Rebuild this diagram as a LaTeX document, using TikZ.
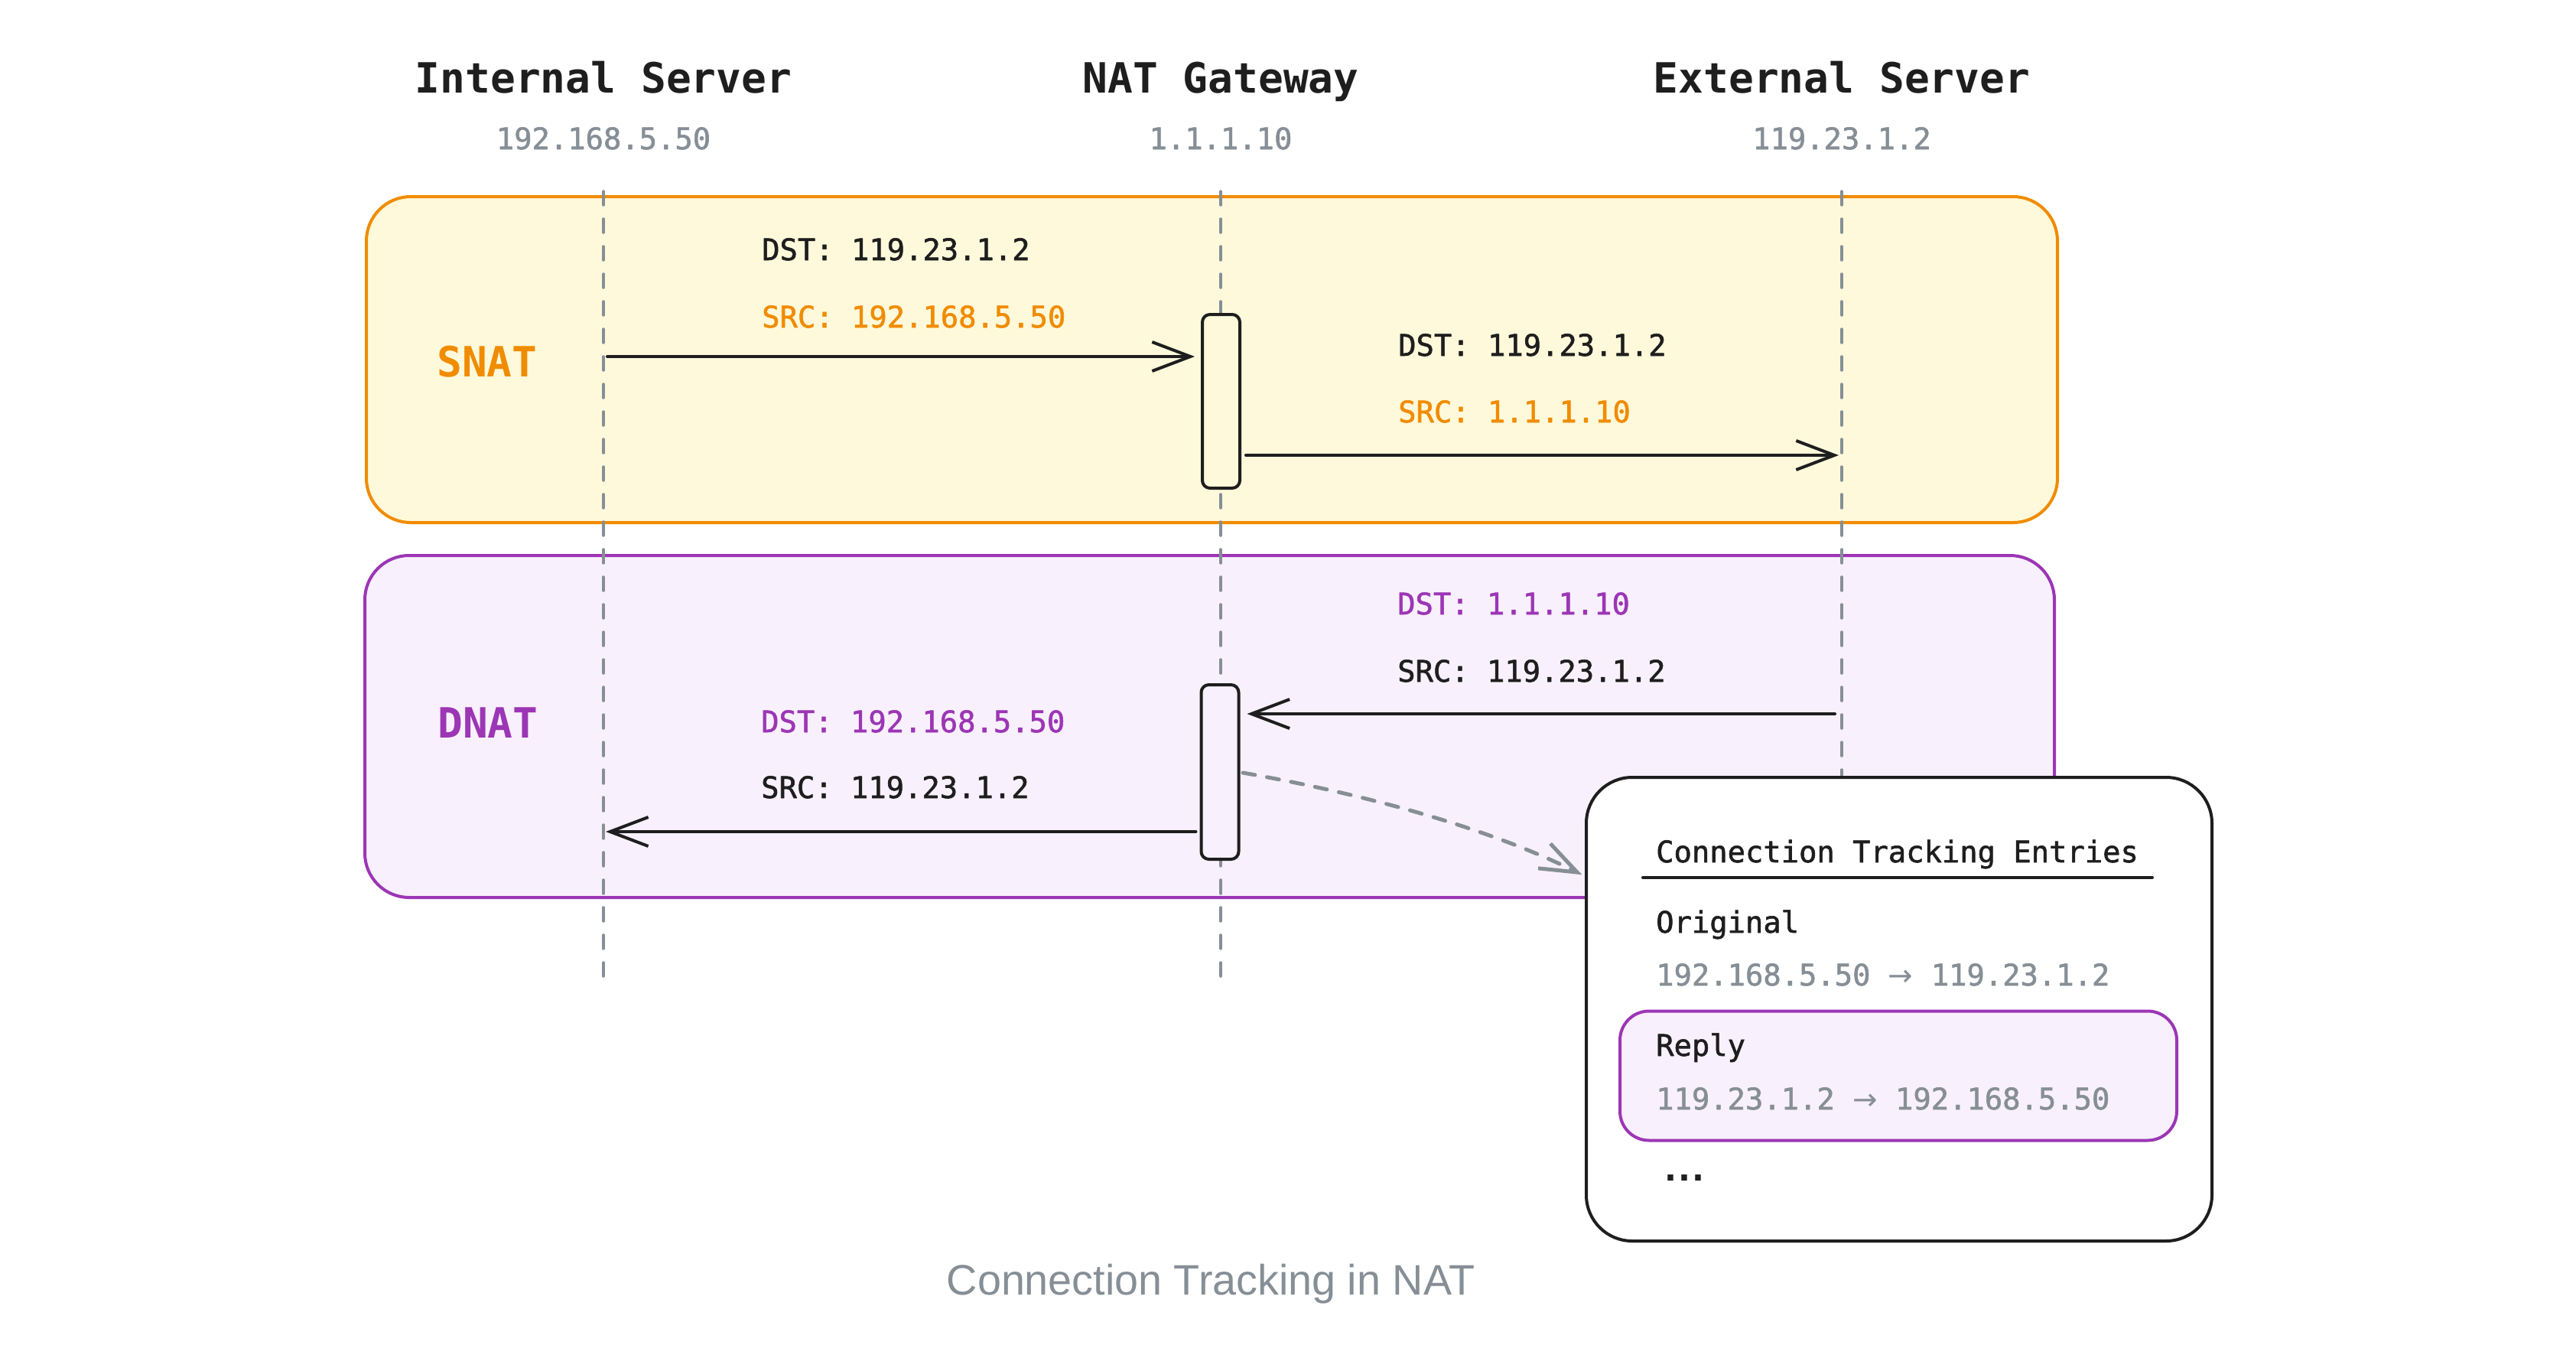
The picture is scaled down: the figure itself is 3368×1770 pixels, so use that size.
\documentclass[tikz,border=0pt]{standalone}
\usepackage{fontspec}
\setmainfont{DejaVu Sans Mono}
\newfontfamily\monof{DejaVu Sans Mono}
\newfontfamily\monolb[FakeBold=1.5]{DejaVu Sans Mono}
\newfontfamily\propf{DejaVu Sans}
\newfontfamily\capf{Liberation Sans}
\usetikzlibrary{arrows.meta}
\definecolor{ink}{HTML}{1E1E1E}
\definecolor{gry}{HTML}{868E96}
\definecolor{orng}{HTML}{F08C00}
\definecolor{snatbg}{HTML}{FFF9DB}
\definecolor{purp}{HTML}{9C36B5}
\definecolor{dnatbg}{HTML}{F8F0FC}
\newcommand\hdfont{\monof\fontsize{54.5}{60}\selectfont}
\newcommand\lbfont{\monolb\fontsize{38.8}{44}\selectfont}
\newcommand\arr{ {\propf→} }
\begin{document}
\begin{tikzpicture}[x=1pt,y=-1pt,line cap=round,line join=round,
  lifeline/.style={draw=gry,line width=3.5pt,dash pattern=on 18pt off 18pt},
  msg/.style={draw=ink,line width=4pt,-{Straight Barb[length=50pt,width=38pt]}},
  dmsg/.style={draw=gry,line width=5pt,dash pattern=on 16pt off 16pt,-{Straight Barb[length=48pt,width=36pt]}},
  region/.style={rounded corners=58pt,line width=4pt,inner sep=0pt},
  actbox/.style={draw=ink,line width=4pt,rounded corners=10pt,minimum width=49pt,minimum height=227pt,inner sep=0pt},
  lbl/.style={inner sep=0pt,anchor=base west,font=\lbfont},
  ttl/.style={inner sep=0pt,anchor=base,font=\hdfont\bfseries,text=ink},
  ipl/.style={inner sep=0pt,anchor=base,font=\lbfont,text=gry},
  sect/.style={inner sep=0pt,anchor=base west,font=\hdfont\bfseries}]
\useasboundingbox[fill=white] (0,0) rectangle (3368,1770);

% regions
\node[region,draw=orng,fill=snatbg,minimum width=2211pt,minimum height=426pt] (snat) at (1584.5,470) {};
\node[region,draw=purp,fill=dnatbg,minimum width=2209pt,minimum height=447pt] (dnat) at (1581.5,949.5) {};

% headers
\node[ttl] (tin) at (789,121) {Internal Server};
\node[ttl] (tnat) at (1596,121) {NAT Gateway};
\node[ttl] (text) at (2408,121) {External Server};
\node[ipl] (ipin) at (789,195) {192.168.5.50};
\node[ipl] (ipnat) at (1596,195) {1.1.1.10};
\node[ipl] (ipext) at (2408,195) {119.23.1.2};

% lifelines
\coordinate (lin1) at (789,250);  \coordinate (lin2) at (789,1278);
\coordinate (lnat1) at (1596,250); \coordinate (lnat2) at (1596,1278);
\coordinate (lext1) at (2408,250); \coordinate (lext2) at (2408,1278);
\draw[lifeline] (lin1) -- (lin2);
\draw[lifeline] (lnat1) -- (lnat2);
\draw[lifeline] (lext1) -- (lext2);

% section labels
\node[sect,text=orng] (lsnat) at (571,492) {SNAT};
\node[sect,text=purp] (ldnat) at (572,964) {DNAT};

% activation boxes
\node[actbox,fill=snatbg] (act1) at (1596.5,524.5) {};
\node[actbox,fill=dnatbg,minimum height=228pt] (act2) at (1595,1009) {};

% messages
\coordinate (m1s) at (794,466);
\draw[msg,shorten >=8pt] (m1s) -- (m1s -| act1.west);
\coordinate (m2e) at (2404,595);
\draw[msg,shorten <=6pt] (act1.east |- m2e) -- (m2e);
\coordinate (m3e) at (792,1087);
\draw[msg,shorten <=5pt] (act2.west |- m3e) -- (m3e);
\coordinate (m4s) at (2399,933);
\draw[msg,shorten >=9pt] (m4s) -- (m4s -| act2.east);

% message labels
\node[lbl,text=ink] (l1a) at (996,340) {DST: 119.23.1.2};
\node[lbl,text=orng] (l1b) at (996,428) {SRC: 192.168.5.50};
\node[lbl,text=ink] (l2a) at (1828,465) {DST: 119.23.1.2};
\node[lbl,text=orng] (l2b) at (1828,552) {SRC: 1.1.1.10};
\node[lbl,text=purp] (l4a) at (1827,803) {DST: 1.1.1.10};
\node[lbl,text=ink] (l4b) at (1827,891) {SRC: 119.23.1.2};
\node[lbl,text=purp] (l3a) at (995,957) {DST: 192.168.5.50};
\node[lbl,text=ink] (l3b) at (995,1043) {SRC: 119.23.1.2};

% connection tracking box
\node[draw=ink,fill=white,line width=4pt,rounded corners=60pt,minimum width=818pt,minimum height=606pt,inner sep=0pt] (ct) at (2483,1319) {};
\node[draw=purp,fill=dnatbg,line width=4pt,rounded corners=38pt,minimum width=728pt,minimum height=169pt,inner sep=0pt] (rep) at (2482,1406) {};
\node[lbl,text=ink] (cth) at (2165,1127) {Connection Tracking Entries};
\coordinate (ul1) at (2148,1147); \coordinate (ul2) at (2814,1147);
\draw[ink,line width=4pt] (ul1) -- (ul2);
\node[lbl,text=ink] (orig) at (2165,1219) {Original};
\node[lbl,text=gry] (origip) at (2165,1288) {192.168.5.50\arr119.23.1.2};
\node[lbl,text=ink] (reply) at (2165,1380) {Reply};
\node[lbl,text=gry] (replyip) at (2165,1450) {119.23.1.2\arr192.168.5.50};
\node[inner sep=0pt,anchor=base west,font=\propf\bfseries\fontsize{42}{46}\selectfont,text=ink] (more) at (2176,1543) {.\kern2pt.\kern2pt.};

% dashed link
\coordinate (dstart) at (1625,1010);
\coordinate (dy) at (0,1145);
\draw[dmsg,shorten >=4pt] (dstart) .. controls (1785,1038) and (1945,1082) .. (ct.west |- dy);

% caption
\node[inner sep=0pt,anchor=base,font=\capf\fontsize{55.7}{62}\selectfont,text=gry] (cap) at (1583,1692) {Connection Tracking in NAT};
\end{tikzpicture}
\end{document}
